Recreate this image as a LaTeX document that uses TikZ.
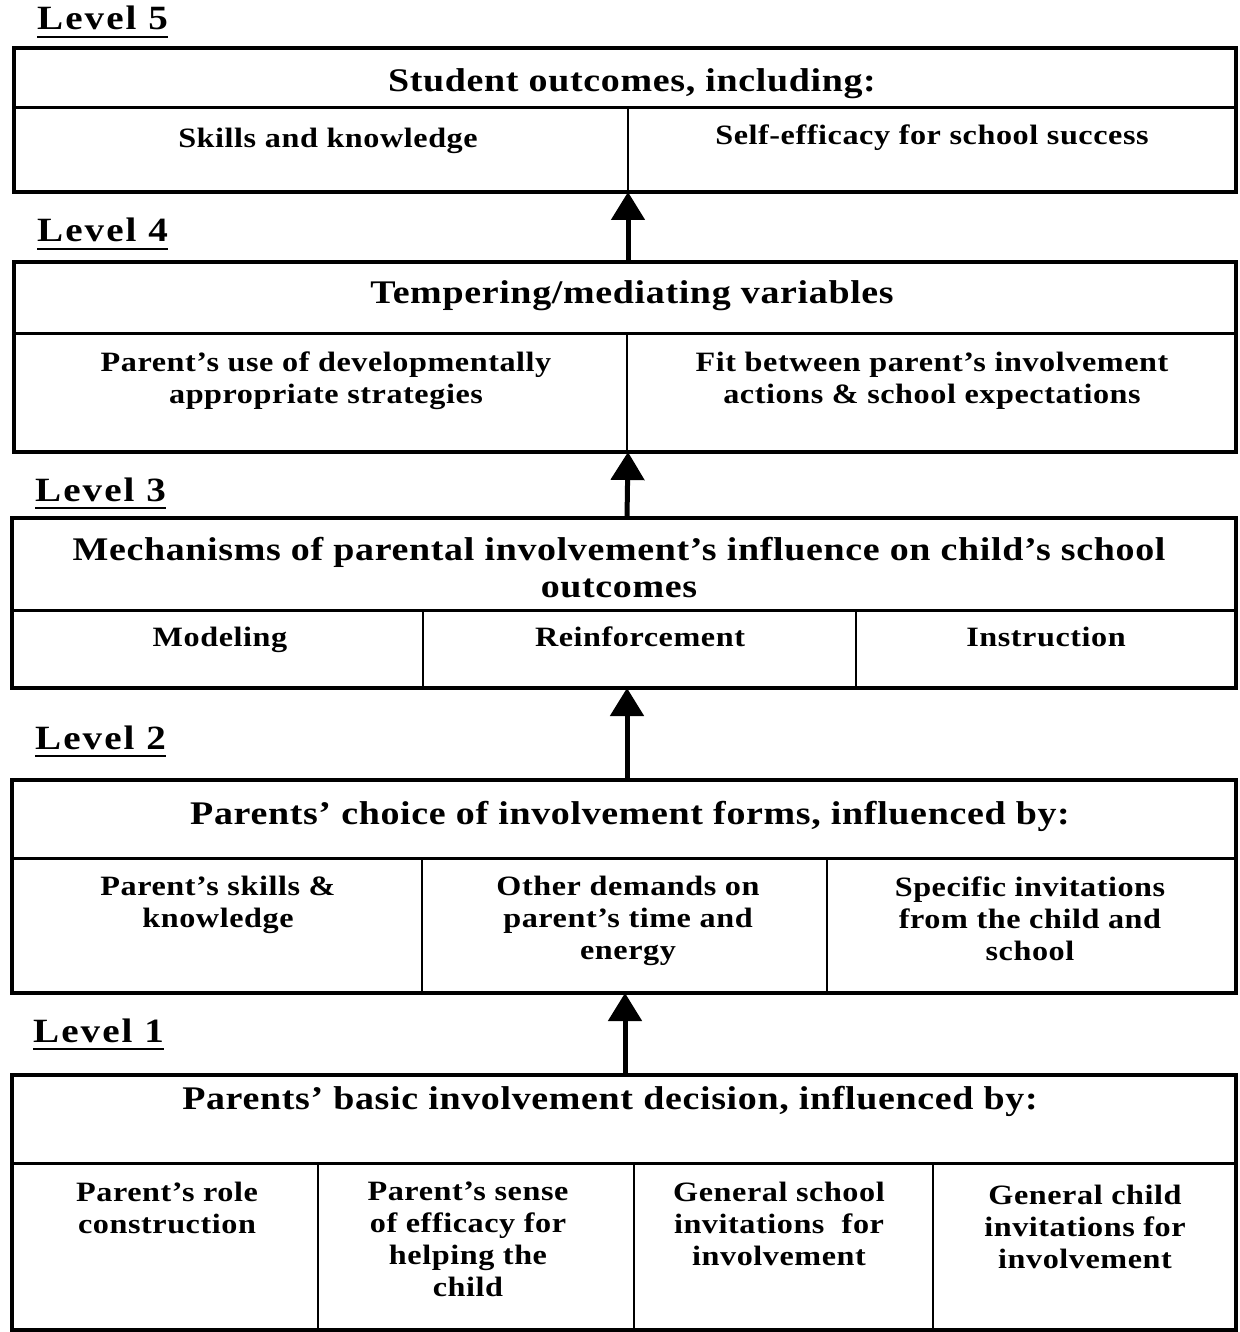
\documentclass[tikz,border=0pt]{standalone}
\usepackage{fontspec}
\setmainfont{Liberation Serif}
\newfontfamily\bodyf{Liberation Serif}[FakeStretch=1.15, LetterSpace=2]
\newfontfamily\headf{Liberation Serif}[FakeStretch=1.15, LetterSpace=2]
\newfontfamily\levf{Liberation Serif}[FakeStretch=1.15, LetterSpace=6]
\usetikzlibrary{arrows.meta}
\begin{document}
\begin{tikzpicture}[x=1pt,y=-1pt,
  outerbox/.style={draw, line width=4pt, inner sep=0pt, outer sep=0pt, anchor=north west},
  hdiv/.style={line width=3pt},
  vdiv/.style={line width=2pt},
  body/.style={font=\bodyf\bfseries\fontsize{28}{32}\selectfont, align=center, inner sep=0pt, anchor=north},
  head/.style={font=\headf\bfseries\fontsize{33}{37}\selectfont, align=center, inner sep=0pt, anchor=north},
  lev/.style={font=\levf\bfseries\fontsize{34}{37}\selectfont, inner sep=0pt, anchor=base west},
  uline/.style={line width=2.5pt},
  arr/.style={line width=5pt, -{Triangle[width=33pt,length=28pt]}}]
\useasboundingbox[fill=white] (0,0) rectangle (1239,1332);

% ---------- boxes ----------
\node[outerbox, minimum width=1222pt, minimum height=144pt] (b5) at (14,48) {};
\node[outerbox, minimum width=1222pt, minimum height=190pt] (b4) at (14,262) {};
\node[outerbox, minimum width=1224pt, minimum height=170pt] (b3) at (12,518) {};
\node[outerbox, minimum width=1224pt, minimum height=213pt] (b2) at (12,780) {};
\node[outerbox, minimum width=1224pt, minimum height=255pt] (b1) at (12,1075) {};

% dividers
\draw[hdiv] (14,108) -- (1236,108);
\draw[vdiv] (628,108) -- (628,192);
\draw[hdiv] (14,333) -- (1236,333);
\draw[vdiv] (627,333) -- (627,452);
\draw[hdiv] (12,610) -- (1236,610);
\draw[vdiv] (423,610) -- (423,688);
\draw[vdiv] (856,610) -- (856,688);
\draw[hdiv] (12,858) -- (1236,858);
\draw[vdiv] (422,858) -- (422,993);
\draw[vdiv] (827,858) -- (827,993);
\draw[hdiv] (12,1163) -- (1236,1163);
\draw[vdiv] (318,1163) -- (318,1330);
\draw[vdiv] (634,1163) -- (634,1330);
\draw[vdiv] (933,1163) -- (933,1330);

% ---------- level labels ----------
\node[lev] (l5) at (37,30) {Level 5};
\node[lev] (l4) at (37,242) {Level 4};
\node[lev] (l3) at (35,501) {Level 3};
\node[lev] (l2) at (35,749) {Level 2};
\node[lev] (l1) at (33,1042) {Level 1};
\foreach \l in {l5,l4,l3,l2,l1}{
  \draw[uline] ([yshift=-7pt]\l.base west) -- ([yshift=-7pt]\l.base east);
}

% ---------- texts ----------
\node[head] (t5h) at (632,68) {Student outcomes, including:};
\node[body] (t5a) at (328,128) {Skills and knowledge};
\node[body] (t5b) at (932,125) {Self-efficacy for school success};

\node[head] (t4h) at (632,280) {Tempering/mediating variables};
\node[body] (t4a) at (326,352) {Parent’s use of developmentally\\appropriate strategies};
\node[body] (t4b) at (932,352) {Fit between parent’s involvement\\actions \& school expectations};

\node[head] (t3h) at (619,537) {Mechanisms of parental involvement’s influence on child’s school\\outcomes};
\node[body] (t3a) at (220,627) {Modeling};
\node[body] (t3b) at (640,627) {Reinforcement};
\node[body] (t3c) at (1046,627) {Instruction};

\node[head] (t2h) at (630,801) {Parents’ choice of involvement forms, influenced by:};
\node[body] (t2a) at (218,876) {Parent’s skills \&\\knowledge};
\node[body] (t2b) at (628,876) {Other demands on\\parent’s time and\\energy};
\node[body] (t2c) at (1030,877) {Specific invitations\\from the child and\\school};

\node[head] (t1h) at (610,1086) {Parents’ basic involvement decision, influenced by:};
\node[body] (t1a) at (167,1182) {Parent’s role\\construction};
\node[body] (t1b) at (468,1182) {Parent’s sense\\of efficacy for\\helping the\\child};
\node[body] (t1c) at (779,1182) {General school\\invitations~ for\\involvement};
\node[body] (t1d) at (1085,1185) {General child\\invitations for\\involvement};

% ---------- arrows ----------
\draw[arr] ([xshift=3pt]b4.north) -- ([xshift=3pt]b5.south);
\draw[arr] ([xshift=3pt]b3.north) -- ([xshift=3pt]b4.south);
\draw[arr] ([xshift=3pt]b2.north) -- ([xshift=3pt]b3.south);
\draw[arr] ([xshift=1pt]b1.north) -- ([xshift=1pt]b2.south);
\end{tikzpicture}
\end{document}
